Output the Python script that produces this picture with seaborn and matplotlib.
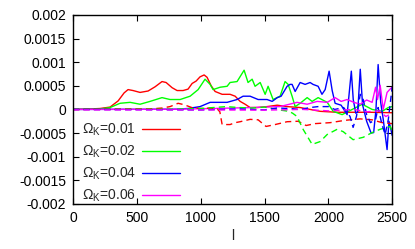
import numpy as np
import pandas as pd
import seaborn as sns
import matplotlib
matplotlib.use('Agg')
import matplotlib.pyplot as plt

# values, in units of 1e-4
red_l = [0, 133, 212, 290, 353, 400, 431, 470, 525, 588, 643, 697, 729, 776, 815, 862, 901, 933, 964, 995, 1027, 1050, 1082, 1113, 1168, 1230, 1270, 1309, 1348, 1387, 1442, 1520, 1599, 1677, 1779, 1936, 2069, 2194, 2328, 2500]
red_v = [0, 0.1, 0.2, 0.5, 1.8, 3.5, 4.2, 4.0, 3.6, 3.9, 4.8, 5.9, 5.7, 4.6, 4.0, 4.0, 4.3, 5.5, 6.0, 6.9, 7.3, 6.8, 5.0, 3.8, 3.2, 3.2, 2.8, 1.7, 1.1, 0.4, 0.4, 0.6, 0.9, 0.6, 0.4, -0.4, -0.6, -0.6, -0.6, -0.7]
red_d_l = [0, 500, 600, 700, 760, 823, 870, 930, 1000, 1080, 1130, 1150, 1168, 1230, 1270, 1309, 1387, 1450, 1512, 1583, 1677, 1763, 1826, 1897, 2014, 2132, 2249, 2343, 2422, 2500]
red_d_v = [0, 0.1, 0.1, 0.3, 0.6, 1.3, 1.0, 0.4, 0.2, 0.3, 0.1, -0.5, -3.2, -3.2, -2.8, -2.6, -2.1, -2.2, -3.6, -3.2, -2.6, -2.5, -3.4, -3.0, -2.8, -2.3, -2.0, -2.2, -2.8, -3.0]

green_l = [0, 200, 290, 368, 447, 525, 603, 697, 760, 839, 917, 980, 1034, 1074, 1097, 1152, 1207, 1230, 1285, 1340, 1371, 1403, 1426, 1466, 1505, 1528, 1567, 1622, 1661, 1685, 1716, 1740, 1779, 1834, 1873, 1920, 1991, 2038, 2108, 2187, 2265, 2343, 2422, 2469, 2500]
green_v = [0, 0.05, 0.4, 1.3, 1.5, 1.1, 1.7, 2.5, 2.1, 2.1, 2.8, 4.2, 6.4, 5.3, 4.2, 4.7, 4.9, 5.7, 5.9, 8.3, 5.7, 6.4, 4.9, 5.7, 3.2, 4.9, 2.1, 2.8, 5.9, 5.3, 2.8, 0.6, 1.3, 2.5, 1.7, 2.5, 1.5, -0.4, -1.1, 0.0, 1.1, 0.0, -0.4, 0.4, 0.6]
green_d_l = [0, 800, 1000, 1100, 1200, 1300, 1400, 1500, 1560, 1640, 1690, 1720, 1755, 1802, 1873, 1936, 1991, 2069, 2116, 2194, 2273, 2343, 2406, 2484, 2500]
green_d_v = [0, 0.05, 0.2, 0.4, 0.6, 0.4, 0.3, 0.5, 0.2, -0.2, -0.4, -0.8, -1.5, -4.2, -7.4, -6.8, -5.3, -4.2, -4.7, -6.4, -5.9, -4.9, -4.2, -3.6, -4.6]

blue_l = [0, 800, 900, 995, 1074, 1207, 1285, 1332, 1387, 1450, 1520, 1560, 1600, 1630, 1677, 1700, 1716, 1740, 1779, 1818, 1857, 1880, 1920, 1950, 1975, 2006, 2030, 2053, 2100, 2147, 2180, 2195, 2215, 2230, 2250, 2268, 2300, 2335, 2355, 2373, 2390, 2410, 2430, 2460, 2475, 2488, 2500]
blue_v = [0, 0.05, 0.2, 0.6, 1.5, 1.5, 2.1, 2.8, 2.8, 2.1, 2.1, 1.7, 2.5, 2.8, 4.9, 5.3, 5.3, 3.8, 5.7, 5.3, 5.7, 5.3, 4.9, 3.2, 4.2, 8.1, 4.0, 1.3, 0.9, -1.1, 8.1, 2.1, -0.8, -0.6, 8.5, 1.0, -2.5, -5.0, -4.9, 0.0, 9.5, 1.5, -2.1, -8.5, -2.5, -4.0, -5.5]
blue_d_l = [0, 1000, 1300, 1500, 1600, 1700, 1780, 1857, 1920, 2000, 2050, 2120, 2170, 2194, 2220, 2250, 2273, 2300, 2330, 2370, 2390, 2420, 2445, 2470, 2500]
blue_d_v = [0, -0.1, 0.1, -0.1, 0.3, 0.2, 0.0, 0.4, 0.6, 0.6, 0.0, 0.4, -1.5, -3.8, -1.5, 3.2, 2.1, -1.1, -2.8, -2.1, 0.4, -3.2, -5.3, -2.1, 4.7]

mag_l = [0, 800, 1100, 1400, 1620, 1755, 1834, 1912, 1991, 2053, 2100, 2147, 2200, 2250, 2300, 2343, 2370, 2385, 2406, 2430, 2460, 2480, 2500]
mag_v = [0, 0.05, 0.2, 0.4, 0.6, 1.5, 1.1, 1.7, 1.5, 2.5, 1.7, 2.1, 1.5, 1.1, 2.0, 1.5, 4.7, 2.1, 5.1, 0.0, 3.6, 4.2, 4.7]
mag_d_l = [0, 500, 1000, 1500, 1800, 2000, 2200, 2300, 2400, 2450, 2500]
mag_d_v = [-0.1, -0.1, -0.1, -0.15, 0.0, -0.3, 0.0, -0.5, -0.3, -1.5, -0.8]

labels = ['0.01', '0.02', '0.04', '0.06']
colors = ['#ff0000', '#00ff00', '#0000ff', '#ff00ff']

series = [(red_l, red_v, red_d_l, red_d_v),
          (green_l, green_v, green_d_l, green_d_v),
          (blue_l, blue_v, blue_d_l, blue_d_v),
          (mag_l, mag_v, mag_d_l, mag_d_v)]

sns.set_style('ticks')
plt.rcParams['font.family'] = ['Liberation Sans', 'DejaVu Sans']
plt.rcParams['mathtext.fontset'] = 'custom'
plt.rcParams['mathtext.rm'] = 'Liberation Sans'
plt.rcParams['mathtext.it'] = 'Liberation Sans'

fig = plt.figure(figsize=(4.15, 2.49), dpi=100)
ax = fig.add_axes([0.176, 0.181, 0.769, 0.759])

for (sl, sv, dl, dv), lab, c in zip(series, labels, colors):
    df = pd.DataFrame({'l': sl, 'v': np.array(sv) * 1e-4})
    sns.lineplot(data=df, x='l', y='v', ax=ax, color=c, lw=1.0,
                 label='Ω$_{\\rm K}$=' + lab)
for (sl, sv, dl, dv), c in zip(series, colors):
    dd = pd.DataFrame({'l': dl, 'v': np.array(dv) * 1e-4})
    sns.lineplot(data=dd, x='l', y='v', ax=ax, color=c, lw=1.0,
                 dashes=False, linestyle=(0, (4.5, 3)))

ax.set_xlim(0, 2500)
ax.set_ylim(-0.002, 0.002)
ax.set_xticks([0, 500, 1000, 1500, 2000, 2500])
ax.set_yticks([-0.002, -0.0015, -0.001, -0.0005, 0, 0.0005, 0.001, 0.0015, 0.002])
ax.set_yticklabels(['-0.002', '-0.0015', '-0.001', '-0.0005', '0', '0.0005', '0.001', '0.0015', '0.002'])
ax.tick_params(direction='in', length=4, width=0.8, top=True, right=True,
               labelsize=10, colors='black', pad=5)
for s in ax.spines.values():
    s.set_linewidth(1.0)
    s.set_color('black')
ax.set_xlabel('l', fontsize=10, labelpad=3)
ax.set_ylabel('')

ax.legend(loc='lower left', frameon=False, markerfirst=False, fontsize=10,
          handlelength=2.8, handletextpad=0.4, labelspacing=0.4,
          borderaxespad=0.0, borderpad=0.2, bbox_to_anchor=(0.019, -0.016))

fig.savefig('out.png', dpi=100)
